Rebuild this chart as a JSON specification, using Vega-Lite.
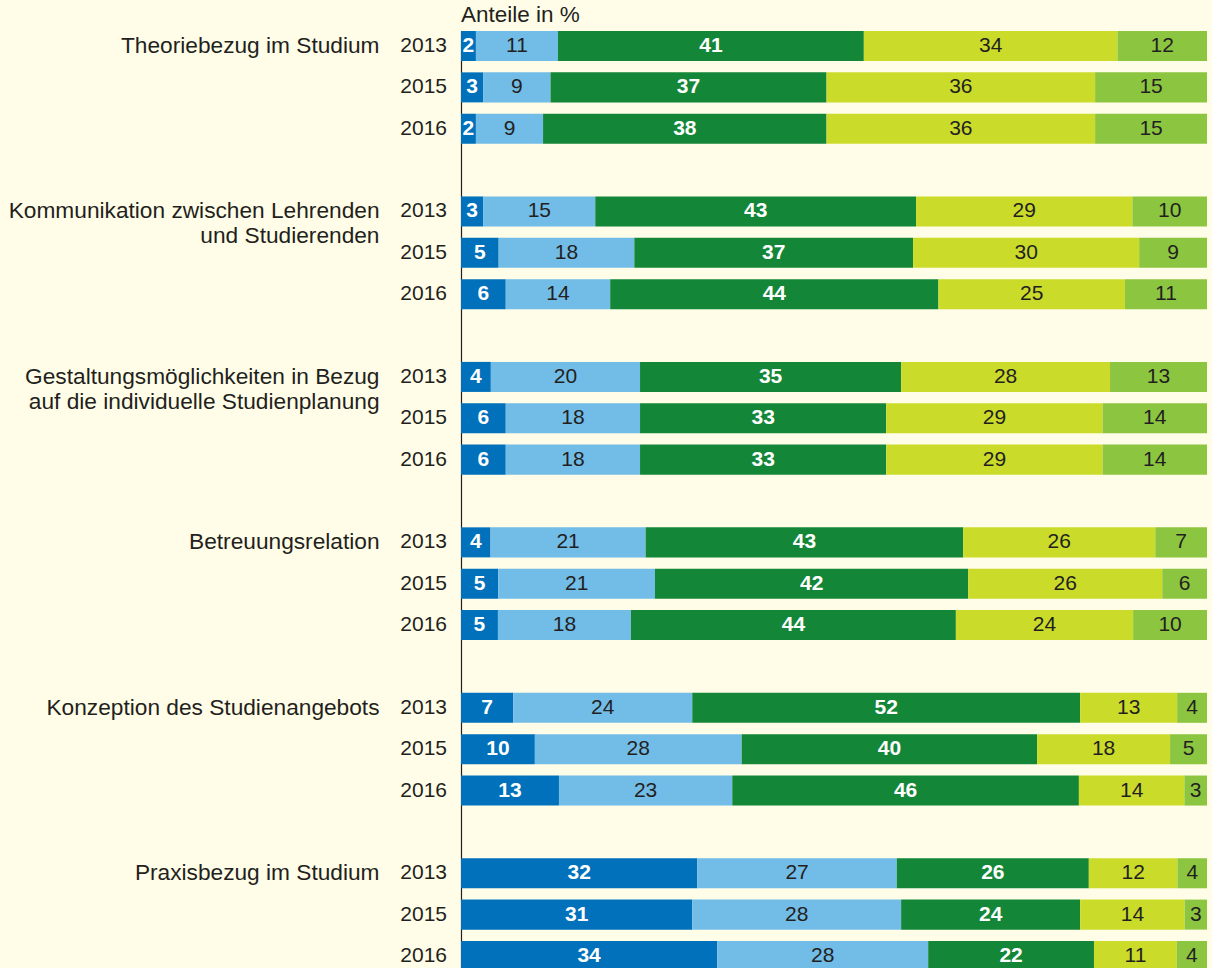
{
  "$schema": "https://vega.github.io/schema/vega-lite/v6.json",
  "width": 746,
  "height": 940,
  "autosize": {"type": "none"},
  "padding": {"left": 461, "top": 31, "right": 5, "bottom": 0},
  "background": "#FFFDE7",
  "title": {"text": "Anteile in %", "anchor": "start", "orient": "top", "frame": "group", "baseline": "alphabetic", "offset": -13, "font": "Liberation Sans", "fontSize": 22.5, "fontWeight": "normal", "color": "#231F20"},
  "config": {"view": {"stroke": null}, "font": "Liberation Sans"},
  "data": {"values": [
    {"bereich": "Theoriebezug im Studium", "jahr": "2013", "stufe": 1, "wert": 2},
    {"bereich": "Theoriebezug im Studium", "jahr": "2013", "stufe": 2, "wert": 11},
    {"bereich": "Theoriebezug im Studium", "jahr": "2013", "stufe": 3, "wert": 41},
    {"bereich": "Theoriebezug im Studium", "jahr": "2013", "stufe": 4, "wert": 34},
    {"bereich": "Theoriebezug im Studium", "jahr": "2013", "stufe": 5, "wert": 12},
    {"bereich": "Theoriebezug im Studium", "jahr": "2015", "stufe": 1, "wert": 3},
    {"bereich": "Theoriebezug im Studium", "jahr": "2015", "stufe": 2, "wert": 9},
    {"bereich": "Theoriebezug im Studium", "jahr": "2015", "stufe": 3, "wert": 37},
    {"bereich": "Theoriebezug im Studium", "jahr": "2015", "stufe": 4, "wert": 36},
    {"bereich": "Theoriebezug im Studium", "jahr": "2015", "stufe": 5, "wert": 15},
    {"bereich": "Theoriebezug im Studium", "jahr": "2016", "stufe": 1, "wert": 2},
    {"bereich": "Theoriebezug im Studium", "jahr": "2016", "stufe": 2, "wert": 9},
    {"bereich": "Theoriebezug im Studium", "jahr": "2016", "stufe": 3, "wert": 38},
    {"bereich": "Theoriebezug im Studium", "jahr": "2016", "stufe": 4, "wert": 36},
    {"bereich": "Theoriebezug im Studium", "jahr": "2016", "stufe": 5, "wert": 15},
    {"bereich": "Kommunikation zwischen Lehrenden\nund Studierenden", "jahr": "2013", "stufe": 1, "wert": 3},
    {"bereich": "Kommunikation zwischen Lehrenden\nund Studierenden", "jahr": "2013", "stufe": 2, "wert": 15},
    {"bereich": "Kommunikation zwischen Lehrenden\nund Studierenden", "jahr": "2013", "stufe": 3, "wert": 43},
    {"bereich": "Kommunikation zwischen Lehrenden\nund Studierenden", "jahr": "2013", "stufe": 4, "wert": 29},
    {"bereich": "Kommunikation zwischen Lehrenden\nund Studierenden", "jahr": "2013", "stufe": 5, "wert": 10},
    {"bereich": "Kommunikation zwischen Lehrenden\nund Studierenden", "jahr": "2015", "stufe": 1, "wert": 5},
    {"bereich": "Kommunikation zwischen Lehrenden\nund Studierenden", "jahr": "2015", "stufe": 2, "wert": 18},
    {"bereich": "Kommunikation zwischen Lehrenden\nund Studierenden", "jahr": "2015", "stufe": 3, "wert": 37},
    {"bereich": "Kommunikation zwischen Lehrenden\nund Studierenden", "jahr": "2015", "stufe": 4, "wert": 30},
    {"bereich": "Kommunikation zwischen Lehrenden\nund Studierenden", "jahr": "2015", "stufe": 5, "wert": 9},
    {"bereich": "Kommunikation zwischen Lehrenden\nund Studierenden", "jahr": "2016", "stufe": 1, "wert": 6},
    {"bereich": "Kommunikation zwischen Lehrenden\nund Studierenden", "jahr": "2016", "stufe": 2, "wert": 14},
    {"bereich": "Kommunikation zwischen Lehrenden\nund Studierenden", "jahr": "2016", "stufe": 3, "wert": 44},
    {"bereich": "Kommunikation zwischen Lehrenden\nund Studierenden", "jahr": "2016", "stufe": 4, "wert": 25},
    {"bereich": "Kommunikation zwischen Lehrenden\nund Studierenden", "jahr": "2016", "stufe": 5, "wert": 11},
    {"bereich": "Gestaltungsmöglichkeiten in Bezug\nauf die individuelle Studienplanung", "jahr": "2013", "stufe": 1, "wert": 4},
    {"bereich": "Gestaltungsmöglichkeiten in Bezug\nauf die individuelle Studienplanung", "jahr": "2013", "stufe": 2, "wert": 20},
    {"bereich": "Gestaltungsmöglichkeiten in Bezug\nauf die individuelle Studienplanung", "jahr": "2013", "stufe": 3, "wert": 35},
    {"bereich": "Gestaltungsmöglichkeiten in Bezug\nauf die individuelle Studienplanung", "jahr": "2013", "stufe": 4, "wert": 28},
    {"bereich": "Gestaltungsmöglichkeiten in Bezug\nauf die individuelle Studienplanung", "jahr": "2013", "stufe": 5, "wert": 13},
    {"bereich": "Gestaltungsmöglichkeiten in Bezug\nauf die individuelle Studienplanung", "jahr": "2015", "stufe": 1, "wert": 6},
    {"bereich": "Gestaltungsmöglichkeiten in Bezug\nauf die individuelle Studienplanung", "jahr": "2015", "stufe": 2, "wert": 18},
    {"bereich": "Gestaltungsmöglichkeiten in Bezug\nauf die individuelle Studienplanung", "jahr": "2015", "stufe": 3, "wert": 33},
    {"bereich": "Gestaltungsmöglichkeiten in Bezug\nauf die individuelle Studienplanung", "jahr": "2015", "stufe": 4, "wert": 29},
    {"bereich": "Gestaltungsmöglichkeiten in Bezug\nauf die individuelle Studienplanung", "jahr": "2015", "stufe": 5, "wert": 14},
    {"bereich": "Gestaltungsmöglichkeiten in Bezug\nauf die individuelle Studienplanung", "jahr": "2016", "stufe": 1, "wert": 6},
    {"bereich": "Gestaltungsmöglichkeiten in Bezug\nauf die individuelle Studienplanung", "jahr": "2016", "stufe": 2, "wert": 18},
    {"bereich": "Gestaltungsmöglichkeiten in Bezug\nauf die individuelle Studienplanung", "jahr": "2016", "stufe": 3, "wert": 33},
    {"bereich": "Gestaltungsmöglichkeiten in Bezug\nauf die individuelle Studienplanung", "jahr": "2016", "stufe": 4, "wert": 29},
    {"bereich": "Gestaltungsmöglichkeiten in Bezug\nauf die individuelle Studienplanung", "jahr": "2016", "stufe": 5, "wert": 14},
    {"bereich": "Betreuungsrelation", "jahr": "2013", "stufe": 1, "wert": 4},
    {"bereich": "Betreuungsrelation", "jahr": "2013", "stufe": 2, "wert": 21},
    {"bereich": "Betreuungsrelation", "jahr": "2013", "stufe": 3, "wert": 43},
    {"bereich": "Betreuungsrelation", "jahr": "2013", "stufe": 4, "wert": 26},
    {"bereich": "Betreuungsrelation", "jahr": "2013", "stufe": 5, "wert": 7},
    {"bereich": "Betreuungsrelation", "jahr": "2015", "stufe": 1, "wert": 5},
    {"bereich": "Betreuungsrelation", "jahr": "2015", "stufe": 2, "wert": 21},
    {"bereich": "Betreuungsrelation", "jahr": "2015", "stufe": 3, "wert": 42},
    {"bereich": "Betreuungsrelation", "jahr": "2015", "stufe": 4, "wert": 26},
    {"bereich": "Betreuungsrelation", "jahr": "2015", "stufe": 5, "wert": 6},
    {"bereich": "Betreuungsrelation", "jahr": "2016", "stufe": 1, "wert": 5},
    {"bereich": "Betreuungsrelation", "jahr": "2016", "stufe": 2, "wert": 18},
    {"bereich": "Betreuungsrelation", "jahr": "2016", "stufe": 3, "wert": 44},
    {"bereich": "Betreuungsrelation", "jahr": "2016", "stufe": 4, "wert": 24},
    {"bereich": "Betreuungsrelation", "jahr": "2016", "stufe": 5, "wert": 10},
    {"bereich": "Konzeption des Studienangebots", "jahr": "2013", "stufe": 1, "wert": 7},
    {"bereich": "Konzeption des Studienangebots", "jahr": "2013", "stufe": 2, "wert": 24},
    {"bereich": "Konzeption des Studienangebots", "jahr": "2013", "stufe": 3, "wert": 52},
    {"bereich": "Konzeption des Studienangebots", "jahr": "2013", "stufe": 4, "wert": 13},
    {"bereich": "Konzeption des Studienangebots", "jahr": "2013", "stufe": 5, "wert": 4},
    {"bereich": "Konzeption des Studienangebots", "jahr": "2015", "stufe": 1, "wert": 10},
    {"bereich": "Konzeption des Studienangebots", "jahr": "2015", "stufe": 2, "wert": 28},
    {"bereich": "Konzeption des Studienangebots", "jahr": "2015", "stufe": 3, "wert": 40},
    {"bereich": "Konzeption des Studienangebots", "jahr": "2015", "stufe": 4, "wert": 18},
    {"bereich": "Konzeption des Studienangebots", "jahr": "2015", "stufe": 5, "wert": 5},
    {"bereich": "Konzeption des Studienangebots", "jahr": "2016", "stufe": 1, "wert": 13},
    {"bereich": "Konzeption des Studienangebots", "jahr": "2016", "stufe": 2, "wert": 23},
    {"bereich": "Konzeption des Studienangebots", "jahr": "2016", "stufe": 3, "wert": 46},
    {"bereich": "Konzeption des Studienangebots", "jahr": "2016", "stufe": 4, "wert": 14},
    {"bereich": "Konzeption des Studienangebots", "jahr": "2016", "stufe": 5, "wert": 3},
    {"bereich": "Praxisbezug im Studium", "jahr": "2013", "stufe": 1, "wert": 32},
    {"bereich": "Praxisbezug im Studium", "jahr": "2013", "stufe": 2, "wert": 27},
    {"bereich": "Praxisbezug im Studium", "jahr": "2013", "stufe": 3, "wert": 26},
    {"bereich": "Praxisbezug im Studium", "jahr": "2013", "stufe": 4, "wert": 12},
    {"bereich": "Praxisbezug im Studium", "jahr": "2013", "stufe": 5, "wert": 4},
    {"bereich": "Praxisbezug im Studium", "jahr": "2015", "stufe": 1, "wert": 31},
    {"bereich": "Praxisbezug im Studium", "jahr": "2015", "stufe": 2, "wert": 28},
    {"bereich": "Praxisbezug im Studium", "jahr": "2015", "stufe": 3, "wert": 24},
    {"bereich": "Praxisbezug im Studium", "jahr": "2015", "stufe": 4, "wert": 14},
    {"bereich": "Praxisbezug im Studium", "jahr": "2015", "stufe": 5, "wert": 3},
    {"bereich": "Praxisbezug im Studium", "jahr": "2016", "stufe": 1, "wert": 34},
    {"bereich": "Praxisbezug im Studium", "jahr": "2016", "stufe": 2, "wert": 28},
    {"bereich": "Praxisbezug im Studium", "jahr": "2016", "stufe": 3, "wert": 22},
    {"bereich": "Praxisbezug im Studium", "jahr": "2016", "stufe": 4, "wert": 11},
    {"bereich": "Praxisbezug im Studium", "jahr": "2016", "stufe": 5, "wert": 4}
  ]},
  "encoding": {
    "y": {
      "field": "bereich", "type": "nominal",
      "sort": ["Theoriebezug im Studium", "Kommunikation zwischen Lehrenden\nund Studierenden", "Gestaltungsmöglichkeiten in Bezug\nauf die individuelle Studienplanung", "Betreuungsrelation", "Konzeption des Studienangebots", "Praxisbezug im Studium"],
      "scale": {"paddingInner": 0.3185, "paddingOuter": 0},
      "axis": {
        "title": null, "grid": false, "ticks": false,
        "domain": true, "domainColor": "#231F20", "domainWidth": 1.2,
        "labelPadding": 82, "labelAlign": "right", "labelBaseline": "middle",
        "labelOffset": -41.4, "labelFontSize": 22.7, "labelFont": "Liberation Sans",
        "labelColor": "#231F20", "labelLimit": 450, "labelOverlap": false,
        "labelLineHeight": 25,
        "labelExpr": "split(datum.label, '\\n')"
      }
    },
    "yOffset": {"field": "jahr", "type": "nominal", "scale": {"paddingInner": 0.274, "paddingOuter": 0}}
  },
  "layer": [
    {
      "mark": {"type": "bar"},
      "encoding": {
        "x": {"field": "wert", "type": "quantitative", "stack": "normalize", "axis": null, "scale": {"nice": false}},
        "color": {"field": "stufe", "type": "nominal", "legend": null,
          "scale": {"domain": [1, 2, 3, 4, 5], "range": ["#0071BA", "#72BCE8", "#138638", "#CBDB2A", "#8CC540"]}},
        "order": {"field": "stufe", "type": "quantitative"}
      }
    },
    {
      "mark": {"type": "text", "fontSize": 21, "fontWeight": "bold", "align": "center", "baseline": "middle", "font": "Liberation Sans"},
      "encoding": {
        "x": {"field": "wert", "type": "quantitative", "stack": "normalize", "bandPosition": 0.5},
        "detail": {"field": "stufe", "type": "nominal"},
        "order": {"field": "stufe", "type": "quantitative"},
        "text": {"field": "wert", "type": "quantitative"},
        "color": {"condition": {"test": "datum.stufe == 1 || datum.stufe == 3", "value": "#FFFFFF"}, "value": "transparent"}
      }
    },
    {
      "mark": {"type": "text", "fontSize": 21, "fontWeight": "normal", "align": "center", "baseline": "middle", "font": "Liberation Sans"},
      "encoding": {
        "x": {"field": "wert", "type": "quantitative", "stack": "normalize", "bandPosition": 0.5},
        "detail": {"field": "stufe", "type": "nominal"},
        "order": {"field": "stufe", "type": "quantitative"},
        "text": {"field": "wert", "type": "quantitative"},
        "color": {"condition": {"test": "datum.stufe == 2 || datum.stufe == 4 || datum.stufe == 5", "value": "#231F20"}, "value": "transparent"}
      }
    },
    {
      "transform": [{"filter": "datum.stufe == 1"}],
      "mark": {"type": "text", "fontSize": 21, "align": "right", "baseline": "middle", "dx": -14, "color": "#231F20", "font": "Liberation Sans"},
      "encoding": {
        "x": {"datum": 0, "type": "quantitative"},
        "text": {"field": "jahr", "type": "nominal"}
      }
    }
  ]
}
